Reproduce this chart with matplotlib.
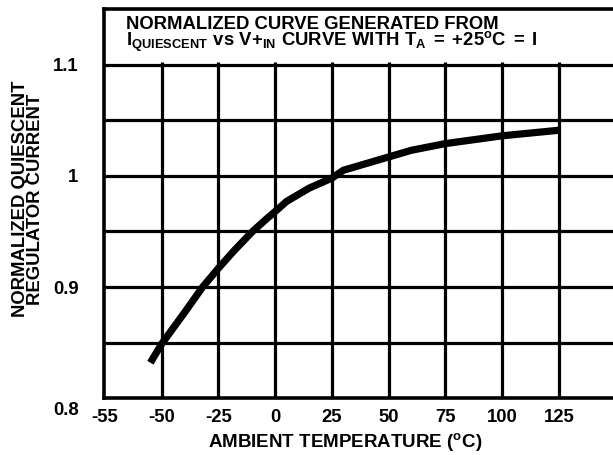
import matplotlib
matplotlib.use("Agg")
import matplotlib.pyplot as plt
import matplotlib.transforms as mtransforms

plt.rcParams['font.family'] = ['Liberation Sans', 'DejaVu Sans']
plt.rcParams['font.weight'] = 'bold'
plt.rcParams['mathtext.fontset'] = 'custom'
plt.rcParams['mathtext.rm'] = 'Liberation Sans:bold'
plt.rcParams['mathtext.it'] = 'Liberation Sans:bold'
plt.rcParams['mathtext.bf'] = 'Liberation Sans:bold'

# Data
temps = [-55, -50, -40, -32, -25, -18, -10, -4, 0, 5, 15, 25, 30, 40, 50, 60, 75, 100, 125]
current = [0.832, 0.849, 0.877, 0.900, 0.917, 0.933, 0.950, 0.961, 0.968, 0.977, 0.989,
           0.998, 1.005, 1.011, 1.017, 1.023, 1.029, 1.036, 1.041]

x_ticks = [-75.3, -50, -25, 0, 25, 50, 75, 100, 125]
x_tick_labels = ["-55", "-50", "-25", "0", "25", "50", "75", "100", "125"]
y_ticks = [0.8, 0.9, 1.0, 1.1]
y_tick_labels = ["0.8", "0.9", "1", "1.1"]
y_grid = [0.85, 0.9, 0.95, 1.0, 1.05, 1.1]
x_grid = [-50, -25, 0, 25, 50, 75, 100, 125]

title_text = ("NORMALIZED CURVE GENERATED FROM\n"
              r"$\mathrm{I_{QUIESCENT}\ vs\ V{+}_{IN}\ CURVE\ WITH\ T_{A}\;=\;{+}25^{o}C\;=\;I}$")
x_label = r"AMBIENT TEMPERATURE ($\mathrm{^{o}C}$)"
y_label = "NORMALIZED QUIESCENT\nREGULATOR CURRENT"

W, H = 613, 455
fig = plt.figure(figsize=(W / 100, H / 100), dpi=100)
left, right, top, bottom = 104.3, 613, 9, 398.3
ax = fig.add_axes([left / W, 1 - bottom / H, (right - left) / W, (bottom - top) / H])

ax.set_xlim(-75.3, 148.8)
ax.set_ylim(0.8, 1.15)

lw_grid = 2.3
for yv in y_grid:
    ax.axhline(yv, color='black', lw=lw_grid, zorder=1)
ax.vlines(x_grid, 0.8, 1.102, color='black', lw=lw_grid, zorder=1)

ax.plot(temps, current, color='black', lw=5.2, solid_capstyle='butt',
        solid_joinstyle='round', zorder=3)

for side in ['left', 'top', 'bottom']:
    ax.spines[side].set_linewidth(2.6)
    ax.spines[side].set_color('black')
ax.spines['right'].set_visible(False)

ax.set_xticks(x_ticks)
ax.set_xticklabels(x_tick_labels, fontsize=13.3, fontweight='bold')
ax.set_yticks(y_ticks)
ax.set_yticklabels(y_tick_labels, fontsize=13.3, fontweight='bold')
ax.tick_params(axis='both', length=0)
ax.tick_params(axis='x', pad=8)
ax.tick_params(axis='y', pad=18.5)

# shift the 0.8 label down as in the reference
for lab in ax.get_yticklabels():
    if lab.get_text() == "0.8":
        lab.set_transform(lab.get_transform() +
                          mtransforms.ScaledTranslation(0, -10 / 100, fig.dpi_scale_trans))

fig.text(345 / W, 1 - 442 / H, x_label, fontsize=13.5,
         fontweight='bold', ha='center', va='center')

fig.text(28 / W, 1 - 199 / H, y_label, rotation=90,
         fontsize=13.3, fontweight='bold', ha='center', va='center', linespacing=0.8)

fig.text(125.7 / W, 1 - 16 / H, title_text, fontsize=13.3, fontweight='bold',
         ha='left', va='top', linespacing=0.82)

fig.savefig("out.png", dpi=100)
